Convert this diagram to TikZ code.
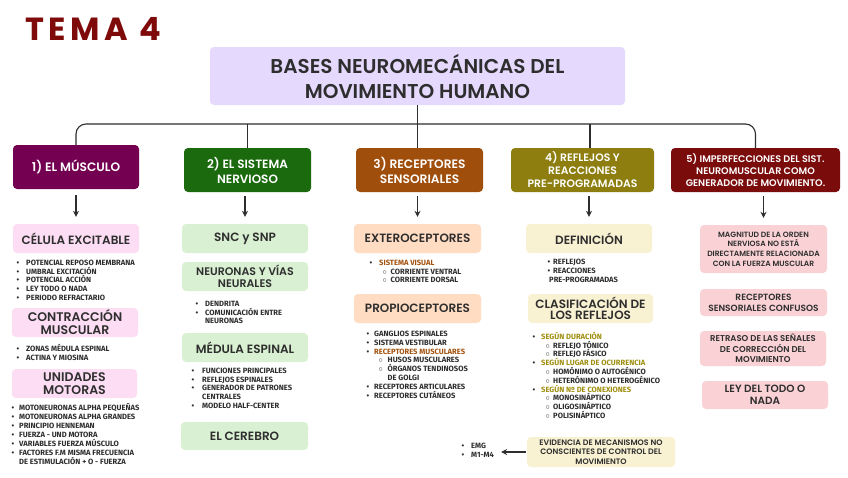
\documentclass[tikz,border=0pt]{standalone}
\usepackage{fontspec}
\setmainfont{Poppins}[UprightFont=* SemiBold, BoldFont=* Bold]
\newfontfamily\temafont{Poppins}[LetterSpace=14]
\newfontfamily\lstfont{Fira Sans}
\usetikzlibrary{arrows.meta}

\definecolor{tema}{HTML}{7F0A0A}
\definecolor{titlefill}{HTML}{E6D9FE}
\definecolor{musculo}{HTML}{730050}
\definecolor{nervioso}{HTML}{1C6A0E}
\definecolor{receptor}{HTML}{A04E0B}
\definecolor{reflejo}{HTML}{8D7E0F}
\definecolor{imperf}{HTML}{7A0C0C}
\definecolor{pinkA}{HTML}{FCDDF3}
\definecolor{greenA}{HTML}{D9F0D2}
\definecolor{peachA}{HTML}{FFDCC2}
\definecolor{creamA}{HTML}{F8F2D3}
\definecolor{pinkB}{HTML}{FAD2D5}
\definecolor{orng}{HTML}{A4520E}
\definecolor{olv}{HTML}{A08F0F}
\definecolor{txt}{HTML}{2E2E2E}

\newcommand{\fs}[2]{\fontsize{#1}{#2}\selectfont}
\newcommand{\bul}[1][8pt]{\makebox[#1][l]{\textbullet}}
\newcommand{\subbul}[2][12pt]{\hspace*{#1}\makebox[#2][l]{$\circ$}}

\begin{document}
\begin{tikzpicture}[x=1pt,y=-1pt,
    mainbox/.style={rounded corners=4pt, inner sep=0pt, align=center, text=white, minimum height=44pt, fill=#1},
    subbox/.style={rounded corners=4pt, inner sep=0pt, align=center, text=txt, fill=#1},
    lst/.style={anchor=base west, inner sep=0pt, align=left, text=txt, font=\lstfont\fs{7.6}{8.7}\bfseries},
    tree/.style={draw=txt, line width=1.1pt},
    arr/.style={draw=txt, line width=1.3pt, -{Stealth[length=6pt,width=6pt]}}]

        \path[use as bounding box, fill=white] (0,0) rectangle (848,477);

        \node[anchor=base west, inner sep=0pt, text=tema, font=\temafont\fs{32}{32}\bfseries] (tema) at (25,40) {TEMA 4};

        \node[subbox=titlefill, minimum width=415pt, minimum height=58pt, font=\fs{20}{25}] (title) at (417.5,76) {BASES NEUROMECÁNICAS DEL\\MOVIMIENTO HUMANO};

        \node[mainbox=musculo, minimum width=126pt, font=\fs{12.2}{15}] (m1) at (76,167) {1) EL MÚSCULO};
        \node[mainbox=nervioso, minimum width=127pt, font=\fs{12}{15}] (m2) at (247.5,170) {2) EL SISTEMA\\NERVIOSO};
        \node[mainbox=receptor, minimum width=127pt, font=\fs{12.2}{15}] (m3) at (419.5,170) {3) RECEPTORES\\SENSORIALES};
        \node[mainbox=reflejo, minimum width=143pt, font=\fs{10.8}{13}] (m4) at (582.5,170) {4) REFLEJOS Y\\REACCIONES\\PRE-PROGRAMADAS};
        \node[mainbox=imperf, minimum width=169pt, font=\fs{9.6}{11.7}] (m5) at (755.5,170) {5) IMPERFECCIONES DEL SIST.\\NEUROMUSCULAR COMO\\GENERADOR DE MOVIMIENTO.};

        \coordinate (j) at (417.5,124);
        \coordinate (k4) at (590,124);
        \path[tree, rounded corners=10pt] (m1.north) |- (j) -| (m5.north);
        \path[tree] (title.south) -- (title.south |- m3.north);
        \path[tree] (m2.north |- j) -- (m2.north);
        \path[tree] (k4) -- (k4 |- m4.north);

        % columna 1
        \node[subbox=pinkA, minimum width=126pt, minimum height=29pt, font=\fs{12}{13}] (c1a) at (76,238.5) {CÉLULA EXCITABLE};
        \node[subbox=pinkA, minimum width=126pt, minimum height=29pt, font=\fs{12.5}{13}] (c1b) at (75,322.5) {CONTRACCIÓN\\MUSCULAR};
        \node[subbox=pinkA, minimum width=125pt, minimum height=29pt, font=\fs{12.5}{13}] (c1c) at (74.5,383.5) {UNIDADES\\MOTORAS};
        \node[lst] (l1a) at (16.5,300.1) {\bul[9.5pt]POTENCIAL REPOSO MEMBRANA\\\bul[9.5pt]UMBRAL EXCITACIÓN\\\bul[9.5pt]POTENCIAL ACCIÓN\\\bul[9.5pt]LEY TODO O NADA\\\bul[9.5pt]PERIODO REFRACTARIO};
        \node[lst] (l1b) at (16.5,360) {\bul[9.5pt]ZONAS MÉDULA ESPINAL\\\bul[9.5pt]ACTINA Y MIOSINA};
        \node[lst, font=\lstfont\fs{7.6}{9}\bfseries] (l1c) at (11.5,464.3) {\bul[7.5pt]MOTONEURONAS ALPHA PEQUEÑAS\\\bul[7.5pt]MOTONEURONAS ALPHA GRANDES\\\bul[7.5pt]PRINCIPIO HENNEMAN\\\bul[7.5pt]FUERZA - UND MOTORA\\\bul[7.5pt]VARIABLES FUERZA MÚSCULO\\\bul[7.5pt]FACTORES F.M MISMA FRECUENCIA\\\hspace*{7.5pt}DE ESTIMULACIÓN + O - FUERZA};

        % columna 2
        \node[subbox=greenA, minimum width=126pt, minimum height=29pt, font=\fs{12}{13}] (c2a) at (245,238.5) {SNC y SNP};
        \node[subbox=greenA, minimum width=126pt, minimum height=29pt, font=\fs{11}{12}] (c2b) at (245,276.5) {NEURONAS Y VÍAS\\NEURALES};
        \node[subbox=greenA, minimum width=126pt, minimum height=29pt, font=\fs{12}{13}] (c2c) at (245,347.5) {MÉDULA ESPINAL};
        \node[subbox=greenA, minimum width=127pt, minimum height=28pt, font=\fs{12}{13}] (c2d) at (244.5,436) {EL CEREBRO};
        \node[lst] (l2a) at (195.5,323.7) {\bul[9.5pt]DENDRITA\\\bul[9.5pt]COMUNICACIÓN ENTRE\\\hspace*{9.5pt}NEURONAS};
        \node[lst, font=\lstfont\fs{7.6}{8.8}\bfseries] (l2b) at (191.5,408.5) {\bul[10.5pt]FUNCIONES PRINCIPALES\\\bul[10.5pt]REFLEJOS ESPINALES\\\bul[10.5pt]GENERADOR DE PATRONES\\\hspace*{10.5pt}CENTRALES\\\bul[10.5pt]MODELO HALF-CENTER};

        % columna 3
        \node[subbox=peachA, minimum width=127pt, minimum height=29pt, font=\fs{12}{13}] (c3a) at (417.5,238.5) {EXTEROCEPTORES};
        \node[subbox=peachA, minimum width=127pt, minimum height=29pt, font=\fs{12}{13}] (c3b) at (417.5,308.5) {PROPIOCEPTORES};
        \node[lst, font=\lstfont\fs{7.6}{8.8}\bfseries] (l3a) at (369.5,282.9) {\bul[9.5pt]\textcolor{orng}{SISTEMA VISUAL}\\\subbul[13pt]{8pt}CORRIENTE VENTRAL\\\subbul[13pt]{8pt}CORRIENTE DORSAL};
        \node[lst, font=\lstfont\fs{7.6}{8.86}\bfseries] (l3b) at (366.5,398.3) {\bul[7.5pt]GANGLIOS ESPINALES\\\bul[7.5pt]SISTEMA VESTIBULAR\\\bul[7.5pt]\textcolor{orng}{RECEPTORES MUSCULARES}\\\subbul[12pt]{9pt}HUSOS MUSCULARES\\\subbul[12pt]{9pt}ÓRGANOS TENDINOSOS\\\hspace*{21pt}DE GOLGI\\\bul[7.5pt]RECEPTORES ARTICULARES\\\bul[7.5pt]RECEPTORES CUTÁNEOS};
        \node[lst, font=\lstfont\fs{7.6}{9}\bfseries] (emg) at (461.5,457.3) {\bul[9.5pt]EMG\\\bul[9.5pt]M1-M4};

        % columna 4
        \node[subbox=creamA, minimum width=126pt, minimum height=29pt, font=\fs{12}{13}] (c4a) at (589,238.5) {DEFINICIÓN};
        \node[subbox=creamA, minimum width=125pt, minimum height=29pt, font=\fs{12}{11.5}] (c4b) at (590.5,308.5) {CLASIFICACIÓN DE\\LOS REFLEJOS};
        \node[subbox=creamA, minimum width=148pt, minimum height=30pt, font=\fs{7.9}{9.5}] (ev) at (601,452) {EVIDENCIA DE MECANISMOS NO\\CONSCIENTES DE CONTROL DEL\\MOVIMIENTO};
        \node[lst, font=\lstfont\fs{7.6}{9}\bfseries] (l4a) at (547.5,282.3) {\bul[5.5pt]REFLEJOS\\\bul[5.5pt]REACCIONES\\\hspace*{1.5pt}PRE-PROGRAMADAS};
        \node[lst, font=\lstfont\fs{7.6}{8.8}\bfseries] (l4b) at (532.5,418.5) {\bul[8.5pt]\textcolor{olv}{SEGÚN DURACIÓN}\\\subbul[13pt]{7.5pt}REFLEJO TÓNICO\\\subbul[13pt]{7.5pt}REFLEJO FÁSICO\\\bul[8.5pt]\textcolor{olv}{SEGÚN LUGAR DE OCURRENCIA}\\\subbul[13pt]{7.5pt}HOMÓNIMO O AUTOGÉNICO\\\subbul[13pt]{7.5pt}HETERÓNIMO O HETEROGÉNICO\\\bul[8.5pt]\textcolor{olv}{SEGÚN Nº DE CONEXIONES}\\\subbul[13pt]{7.5pt}MONOSINÁPTICO\\\subbul[13pt]{7.5pt}OLIGOSINÁPTICO\\\subbul[13pt]{7.5pt}POLISINÁPTICO};

        % columna 5
        \node[subbox=pinkB, minimum width=127pt, minimum height=48pt, font=\fs{7.6}{9.7}] (r1) at (763.5,249) {MAGNITUD DE LA ORDEN\\NERVIOSA NO ESTÁ\\DIRECTAMENTE RELACIONADA\\CON LA FUERZA MUSCULAR};
        \node[subbox=pinkB, minimum width=127pt, minimum height=27pt, font=\fs{9}{11}] (r2) at (763.5,302.5) {RECEPTORES\\SENSORIALES CONFUSOS};
        \node[subbox=pinkB, minimum width=126pt, minimum height=35pt, font=\fs{8.5}{10.5}] (r3) at (763,348.5) {RETRASO DE LAS SEÑALES\\DE CORRECCIÓN DEL\\MOVIMIENTO};
        \node[subbox=pinkB, minimum width=126pt, minimum height=28pt, font=\fs{10.5}{11.5}] (r4) at (765,395) {LEY DEL TODO O\\NADA};

        \path[arr, shorten <=6pt, shorten >=7pt] (m1.south -| c1a.north) -- (c1a.north);
        \path[arr, shorten <=4pt, shorten >=7pt] (m2.south -| c2a.north) -- (c2a.north);
        \path[arr, shorten <=4pt, shorten >=7pt] (m3.south -| c3a.north) -- (c3a.north);
        \path[arr, shorten <=4pt, shorten >=7pt] (m4.south -| c4a.north) -- (c4a.north);
        \path[arr, shorten <=4pt, shorten >=7pt] (m5.south -| r1.north) -- (r1.north);
        \path[arr, shorten <=1pt, shorten >=7pt] (ev.west) -- (ev.west -| emg.east);

    \end{tikzpicture}
\end{document}
